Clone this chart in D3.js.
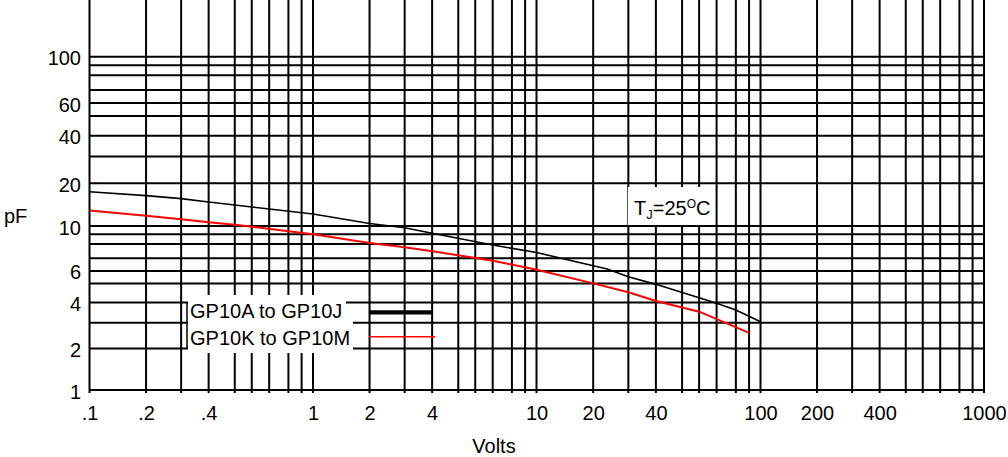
<!DOCTYPE html>
<html>
<head>
<meta charset="utf-8">
<script src="https://cdn.jsdelivr.net/npm/d3@7"></script>
<style>
    body { margin: 0; background: #fff; }
    svg { display: block; font-family: "Liberation Sans", Arial, sans-serif; }
</style>
</head>
<body>
<svg width="1008" height="457"></svg>
<script>
// grid spacing inside one decade (value 1..10), as printed on the datasheet
var decadeSpacing = [ 0, 0.253, 0.41, 0.533, 0.65, 0.726, 0.804, 0.89, 0.949, 1 ],
    xDecades      = [ 0.1, 1, 10, 100, 1000 ],
    yDecades      = [ 1, 10, 100 ],

    // GP10A to GP10J
    voltsA = [ 0.1, 0.2, 0.3, 0.4, 0.5, 1, 2, 3, 4, 7, 10, 20, 24, 30, 40, 70, 80, 100 ],
    pfA    = [ 18.0, 17.1, 16.4, 15.6, 14.9, 12.8, 10.6, 9.8, 9.13, 7.93, 7.4, 6.41, 6.15, 5.54, 4.95, 3.97, 3.63, 3.05 ],

    // GP10K to GP10M
    voltsK = [ 0.1, 0.2, 0.3, 0.4, 0.5, 1, 2, 3, 4, 7, 10, 20, 30, 40, 60, 90 ],
    pfK    = [ 13.6, 12.4, 11.6, 10.9, 10.3, 9.0, 8.1, 7.77, 7.49, 6.8, 6.1, 5.0, 4.54, 4.08, 3.55, 2.61 ],

    xTickValues = [ 0.1, 0.2, 0.4, 1, 2, 4, 10, 20, 40, 100, 200, 400, 1000 ],
    xTickLabels = [ '.1', '.2', '.4', '1', '2', '4', '10', '20', '40', '100', '200', '400', '1000' ],
    yTickValues = [ 1, 2, 4, 6, 10, 20, 40, 60, 100 ],
    yTickLabels = [ '1', '2', '4', '6', '10', '20', '40', '60', '100' ],

    seriesNames = [ 'GP10A to GP10J', 'GP10K to GP10M' ];

// piecewise scale that follows the hand-drawn log grid
function warpScale( decades, pixels ) {
    var domain = [], range = [], d, k;
    for ( d = 0; d < decades.length - 1; d++ ) {
        for ( k = 1; k <= 9; k++ ) {
            domain.push( k * decades[ d ] );
            range.push( pixels[ d ] + decadeSpacing[ k - 1 ] * ( pixels[ d + 1 ] - pixels[ d ] ) );
        }
    }
    domain.push( decades[ decades.length - 1 ] );
    range.push( pixels[ pixels.length - 1 ] );
    return d3.scaleLinear().domain( domain ).range( range );
}

var svg    = d3.select( 'svg' ),
    left   = 90,
    right  = 985,
    top    = 1,
    bottom = 390,
    x = warpScale( xDecades, [ 89.5, 313, 536.5, 760.5, 984 ] ),
    y = warpScale( yDecades, [ 390, 226, 56.7 ] ),
    grid = svg.append( 'g' );

// vertical grid lines
grid.selectAll( '.vgrid' )
    .data( x.domain() )
    .enter().append( 'line' )
    .attr( 'x1', function ( d ) { return x( d ); } )
    .attr( 'x2', function ( d ) { return x( d ); } )
    .attr( 'y1', top )
    .attr( 'y2', bottom + 3 )
    .attr( 'stroke', '#000' )
    .attr( 'stroke-width', 2 );

// horizontal grid lines
grid.selectAll( '.hgrid' )
    .data( y.domain() )
    .enter().append( 'line' )
    .attr( 'x1', left )
    .attr( 'x2', right )
    .attr( 'y1', function ( d ) { return y( d ); } )
    .attr( 'y2', function ( d ) { return y( d ); } )
    .attr( 'stroke', '#000' )
    .attr( 'stroke-width', 2 );

// frame
svg.append( 'rect' )
    .attr( 'x', left )
    .attr( 'y', top )
    .attr( 'width', right - left )
    .attr( 'height', bottom - top )
    .attr( 'fill', 'none' )
    .attr( 'stroke', '#000' )
    .attr( 'stroke-width', 2 );

// white boxes behind the labels
svg.append( 'rect' ).attr( 'x', 188 ).attr( 'y', 295 ).attr( 'width', 158 ).attr( 'height', 28 ).attr( 'fill', '#fff' );
svg.append( 'rect' ).attr( 'x', 188 ).attr( 'y', 319 ).attr( 'width', 165 ).attr( 'height', 34 ).attr( 'fill', '#fff' );
svg.append( 'rect' ).attr( 'x', 628 ).attr( 'y', 187 ).attr( 'width', 87 ).attr( 'height', 38 ).attr( 'fill', '#fff' );
svg.append( 'line' )
    .attr( 'x1', 187 ).attr( 'x2', 187 )
    .attr( 'y1', y( 4 ) ).attr( 'y2', y( 2 ) )
    .attr( 'stroke', '#000' ).attr( 'stroke-width', 1.5 );

// curves
var line = d3.line()
    .x( function ( d ) { return x( d[ 0 ] ); } )
    .y( function ( d ) { return y( d[ 1 ] ); } );

svg.append( 'path' )
    .datum( d3.zip( voltsA, pfA ) )
    .attr( 'd', line )
    .attr( 'fill', 'none' )
    .attr( 'stroke', '#000' )
    .attr( 'stroke-width', 1.6 );

svg.append( 'path' )
    .datum( d3.zip( voltsK, pfK ) )
    .attr( 'd', line )
    .attr( 'fill', 'none' )
    .attr( 'stroke', '#ff0000' )
    .attr( 'stroke-width', 2 );

// axes labels
var xAxis = svg.append( 'g' )
    .attr( 'transform', 'translate(0,' + bottom + ')' )
    .call( d3.axisBottom( x ).tickValues( xTickValues ).tickSize( 0 ).tickPadding( 16 )
        .tickFormat( function ( d, i ) { return xTickLabels[ i ]; } ) );
xAxis.select( '.domain' ).remove();
xAxis.attr( 'font-size', 20 ).attr( 'font-family', null );
xAxis.selectAll( 'text' ).attr( 'fill', '#000' );

var yAxis = svg.append( 'g' )
    .attr( 'transform', 'translate(' + left + ',0)' )
    .call( d3.axisLeft( y ).tickValues( yTickValues ).tickSize( 0 ).tickPadding( 9 )
        .tickFormat( function ( d, i ) { return yTickLabels[ i ]; } ) );
yAxis.select( '.domain' ).remove();
yAxis.attr( 'font-size', 20 ).attr( 'font-family', null );
yAxis.selectAll( 'text' ).attr( 'fill', '#000' ).attr( 'dy', '0.4em' );

svg.append( 'text' )
    .attr( 'x', 494 ).attr( 'y', 453 )
    .attr( 'text-anchor', 'middle' )
    .attr( 'font-size', 20 )
    .text( 'Volts' );

svg.append( 'text' )
    .attr( 'x', 4 ).attr( 'y', 223 )
    .attr( 'font-size', 20 )
    .text( 'pF' );

// legend
var legend = svg.append( 'g' ).attr( 'font-size', 20 );
legend.append( 'text' ).attr( 'x', 190 ).attr( 'y', 318 ).text( seriesNames[ 0 ] );
legend.append( 'text' ).attr( 'x', 190 ).attr( 'y', 345 ).text( seriesNames[ 1 ] );
legend.append( 'line' )
    .attr( 'x1', 370 ).attr( 'x2', 432 ).attr( 'y1', 312.3 ).attr( 'y2', 312.3 )
    .attr( 'stroke', '#000' ).attr( 'stroke-width', 4.3 );
legend.append( 'line' )
    .attr( 'x1', 369 ).attr( 'x2', 435 ).attr( 'y1', 336.7 ).attr( 'y2', 336.7 )
    .attr( 'stroke', '#ff0000' ).attr( 'stroke-width', 1.6 );

// junction temperature note
var note = svg.append( 'text' )
    .attr( 'x', 634 ).attr( 'y', 215 )
    .attr( 'font-size', 20 );
note.append( 'tspan' ).text( 'T' );
note.append( 'tspan' ).attr( 'font-size', 13 ).attr( 'dy', 4 ).text( 'J' );
note.append( 'tspan' ).attr( 'dy', -4 ).text( '=25' );
note.append( 'tspan' ).attr( 'font-size', 12 ).attr( 'dy', -7 ).text( 'O' );
note.append( 'tspan' ).attr( 'dy', 7 ).text( 'C' );
</script>
</body>
</html>
